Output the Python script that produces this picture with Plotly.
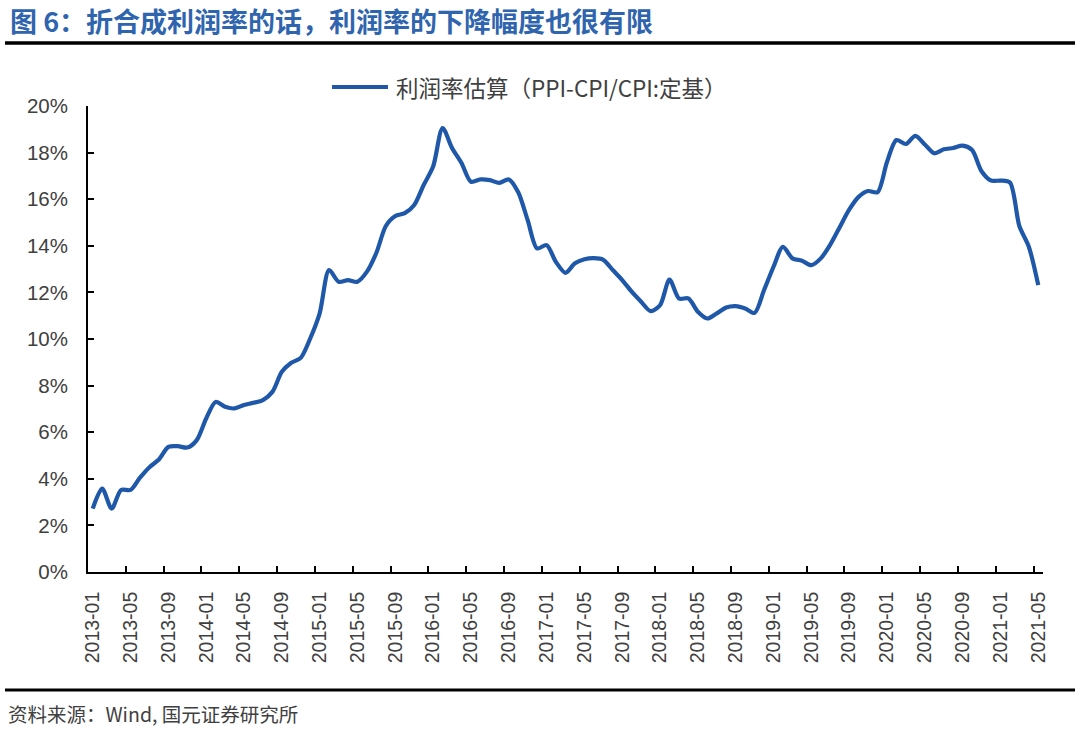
import pandas as pd
import plotly.graph_objects as go

# ---- data ----
categories = [d.strftime("%Y-%m") for d in pd.date_range("2013-01-01", "2021-05-01", freq="MS")]

profit_rate = [
    2.72, 3.58, 2.72, 3.52, 3.52, 4.05, 4.50, 4.83, 5.37, 5.40,
    5.34, 5.66, 6.59, 7.30, 7.09, 7.02, 7.17, 7.26, 7.38, 7.73,
    8.59, 8.98, 9.19, 10.02, 11.10, 12.96, 12.46, 12.53, 12.46, 12.89,
    13.70, 14.85, 15.28, 15.40, 15.75, 16.61, 17.40, 19.05, 18.20, 17.55,
    16.75, 16.85, 16.82, 16.70, 16.85, 16.30, 15.10, 13.89, 14.03, 13.30,
    12.84, 13.25, 13.42, 13.47, 13.40, 12.96, 12.53, 12.03, 11.60, 11.20,
    11.45, 12.55, 11.74, 11.74, 11.17, 10.88, 11.10, 11.35, 11.41, 11.31,
    11.12, 12.10, 13.10, 13.96, 13.46, 13.36, 13.17, 13.46, 14.05, 14.80,
    15.55, 16.10, 16.35, 16.30, 17.60, 18.54, 18.37, 18.72, 18.35, 17.97,
    18.14, 18.20, 18.30, 18.11, 17.20, 16.80, 16.80, 16.72, 14.85, 13.96,
    12.31,
]

series_name = "利润率估算（PPI-CPI/CPI:定基）"
title_text = "图 6：折合成利润率的话，利润率的下降幅度也很有限"
source_text = "资料来源：Wind, 国元证券研究所"
y_ticks = [0, 2, 4, 6, 8, 10, 12, 14, 16, 18, 20]

# ---- layout geometry (px) ----
W, H = 1080, 733
L, R, T, B = 88, 37, 106, 161
PW, PH = W - L - R, H - T - B

def px_x(px):
    return (px - L) / PW

def px_y(py):
    return (H - B - py) / PH

LINE_COLOR = "#1F58A8"
TEXT_GRAY = "#404040"
LATIN = "Liberation Sans, Arial, sans-serif"
CJK = "Noto Sans CJK SC, Liberation Sans, sans-serif"

fig = go.Figure()
fig.add_trace(go.Scatter(
    x=categories, y=profit_rate, name=series_name, mode="lines",
    line=dict(color=LINE_COLOR, width=4.2, shape="spline", smoothing=0.8),
    showlegend=False,
))

fig.update_layout(
    width=W, height=H,
    margin=dict(l=L, r=R, t=T, b=B),
    paper_bgcolor="white", plot_bgcolor="white",
    xaxis=dict(
        type="category", range=[-0.5, len(categories) - 0.5],
        tickmode="linear", tick0=0, dtick=4, tickson="boundaries",
        tickangle=-90, ticks="inside", ticklen=6, tickwidth=1.5, tickcolor="black",
        showline=True, linecolor="black", linewidth=1.8, showgrid=False, zeroline=False,
        tickfont=dict(family=LATIN, size=19.5, color=TEXT_GRAY),
        ticklabelstandoff=10,
    ),
    yaxis=dict(
        range=[0, 20], tickmode="array", tickvals=y_ticks,
        ticktext=[f"{v}%" for v in y_ticks],
        ticks="inside", ticklen=6, tickwidth=1.5, tickcolor="black",
        showline=True, linecolor="black", linewidth=1.8, showgrid=False, zeroline=False,
        tickfont=dict(family=LATIN, size=20.5, color=TEXT_GRAY),
        ticklabelstandoff=14,
    ),
    shapes=[
        dict(type="line", xref="paper", yref="paper",
             x0=px_x(5), x1=px_x(1075), y0=px_y(43), y1=px_y(43),
             line=dict(color="black", width=3.5)),
        dict(type="line", xref="paper", yref="paper",
             x0=px_x(5), x1=px_x(1075), y0=px_y(690), y1=px_y(690),
             line=dict(color="black", width=3)),
        # legend sample line
        dict(type="line", xref="paper", yref="paper",
             x0=px_x(332), x1=px_x(388), y0=px_y(87), y1=px_y(87),
             line=dict(color=LINE_COLOR, width=4)),
    ],
    annotations=[
        dict(text="<b>" + title_text + "</b>", xref="paper", yref="paper",
             x=px_x(8), y=px_y(21), xanchor="left", yanchor="middle", showarrow=False,
             font=dict(family=CJK, size=27, color="#2F64AE")),
        dict(text=series_name, xref="paper", yref="paper",
             x=px_x(394), y=px_y(87), xanchor="left", yanchor="middle", showarrow=False,
             font=dict(family=CJK, size=22.5, color=TEXT_GRAY)),
        dict(text=source_text, xref="paper", yref="paper",
             x=px_x(6), y=px_y(713), xanchor="left", yanchor="middle", showarrow=False,
             font=dict(family=CJK, size=19.5, color=TEXT_GRAY)),
    ],
)

fig.write_html("out.html", config={"displayModeBar": False},
               post_script="document.body.style.margin='0';")
